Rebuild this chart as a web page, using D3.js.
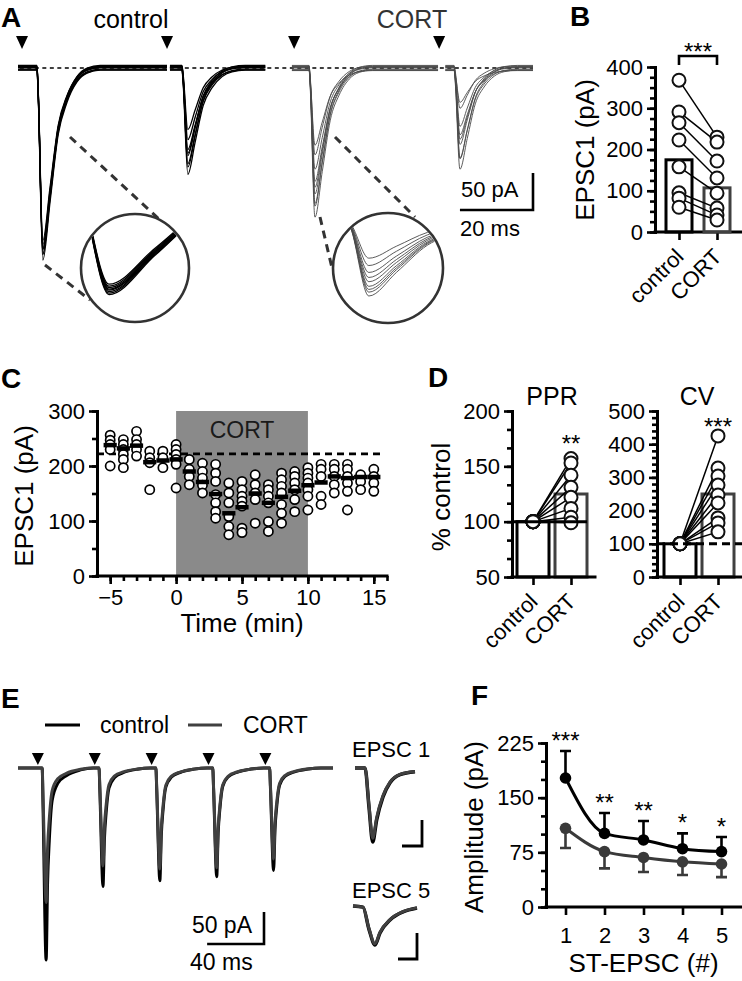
<!DOCTYPE html>
<html>
<head>
<meta charset="utf-8">
<script src="https://cdn.jsdelivr.net/npm/d3@7"></script>
<style>
  body { margin: 0; background: #fff; }
  svg text { font-family: "Liberation Sans", Arial, Helvetica, sans-serif; fill: #000; }
</style>
</head>
<body>
<svg id="fig" width="742" height="981"></svg>
<script>
// ---------- data ----------
// A: peak amplitude (pA) of each overlaid sweep, 1st and 2nd response
const ctrlSweepPeak1 = [257, 254, 251, 248, 246, 243, 240, 236];
const ctrlSweepPeak2 = [141, 136, 128, 122, 116, 108, 98, 86];
const cortSweepPeak1 = [199, 189, 182, 174, 162, 151, 138, 120, 101];
const cortSweepPeak2 = [134, 125, 120, 107, 97, 88, 80, 57, 43];
const sweepNoise = [-3, 2, -1.5, 3.5, 0.5, -2.5, 1, 2.5, -3.5];   // baseline spread, pA
// EPSC waveform: [ms after onset, fraction of peak]
const epscShape = [[0, 0], [0.3, 0.12], [1.6, 1], [3.6, 0.69], [5.8, 0.34], [8.2, 0.17], [11, 0.06], [13.7, 0.015], [17.3, 0]];
const sweepWindows = [            // ms
  {cond: "control", t0: 0, t1: 40.8, stim: 1.1},
  {cond: "control", t0: 41.6, t1: 67.7, stim: 40.8},
  {cond: "CORT", t0: 75, t1: 115, stim: 75.6},
  {cond: "CORT", t0: 117, t1: 141, stim: 115.3}
];
const latency = 4.1;

// B
const groups = ["control", "CORT"];
const epscCtrl = [368, 291, 265, 223, 158, 95, 82, 60];
const epscCort = [230, 218, 172, 131, 94, 58, 41, 29];
const epscMean = [175, 107];

// C
const timeMin = [-5, -4, -3, -2, -1, 0, 1, 2, 3, 4, 5, 6, 7, 8, 9, 10, 11, 12, 13, 14, 15];
const epscTime = [
  [256, 247, 239, 230, 200],
  [248, 239, 230, 221, 212, 197],
  [263, 248, 239, 230, 218],
  [227, 215, 206, 157],
  [227, 215, 197],
  [239, 230, 221, 212, 203, 160],
  [212, 194, 181, 166],
  [205, 190, 178, 165, 151],
  [203, 187, 172, 148, 133, 117, 105],
  [169, 151, 133, 108, 90, 75],
  [172, 157, 145, 136, 127, 87, 79],
  [184, 166, 151, 139, 96],
  [166, 157, 145, 133, 99, 81],
  [187, 175, 163, 151, 130, 114, 96],
  [190, 181, 169, 157, 139, 117],
  [197, 187, 178, 169, 157, 145, 120],
  [203, 194, 181, 145, 130],
  [203, 194, 181, 166, 151],
  [203, 194, 181, 169, 154, 120],
  [184, 172, 157],
  [194, 181, 169, 154]
];
const meanTime = [238, 232, 237, 207, 210, 212, 190, 171, 149, 114, 125, 150, 133, 144, 155, 165, 170, 181, 178, 180, 180];
const baselineC = 222;

// D
const pprCtrl = [100, 100, 100, 100, 100, 100, 100, 100];
const pprCort = [157, 153, 142, 131, 122, 112, 104, 99];
const pprMean = [100, 125];
const cvCtrl = [100, 100, 100, 100, 100, 100, 100, 100, 100];
const cvCort = [425, 328, 304, 277, 247, 223, 178, 163, 136];
const cvMean = [100, 250];

// E
const stimTimesE = [14, 54, 94, 134, 174];
const ctrlTrainPeak = [300, 185, 176, 170, 160];
const cortTrainPeak = [210, 153, 158, 156, 142];
const trainShape = [[0, 0], [3, 0], [3.6, 0.2], [5.8, 1], [6.8, 0.6], [8, 0.38], [10, 0.17], [14, 0.08], [20, 0.04], [30, 0.01], [39, 0]];
const insetShape1 = [[0, 0], [10, 0], [14, 0.53], [17.7, 1], [21.7, 0.7], [28, 0.39], [35, 0.2], [45, 0.09], [60, 0.05]];
const insetShape5 = [[0, 0], [10, 0.03], [16, 0.6], [22, 1], [27, 0.69], [37, 0.36], [50, 0.15], [64, 0.05]];

// F
const pulseNo = [1, 2, 3, 4, 5];
const ampCtrl = [177, 101, 92, 80, 76];
const semCtrl = [37, 28, 26, 21, 20];
const ampCort = [108, 76, 68, 62, 59];
const semCort = [27, 23, 20, 18, 18];
const starsF = ["***", "**", "**", "*", "*"];

// ---------- helpers ----------
const FONT = '"Liberation Sans", Arial, Helvetica, sans-serif';
const GREY = "#404040";
const svg = d3.select("#fig");

function txt(s, x, y, size, anchor) {
  return svg.append("text").text(s).attr("x", x).attr("y", y)
    .attr("font-size", size).attr("text-anchor", anchor || "start");
}
function vtxt(s, x, y, size) {
  return svg.append("text").text(s).attr("transform", `translate(${x},${y}) rotate(-90)`)
    .attr("text-anchor", "middle").attr("font-size", size);
}
function slant(s, x, y) {
  return svg.append("text").text(s).attr("transform", `translate(${x},${y}) rotate(-45)`)
    .attr("text-anchor", "end").attr("font-size", 22);
}
function letter(s, x, y) { txt(s, x, y, 28).attr("font-weight", "bold"); }

function styleAxis(g) {
  g.attr("font-family", FONT).attr("font-size", 22);
  g.select(".domain").attr("stroke-width", 3).attr("stroke-linecap", "square");
  g.selectAll(".tick line").attr("stroke-width", 2.6);
  g.selectAll(".tick text").attr("fill", "#000");
}
function yAxis(scale, x, major, minor) {
  svg.append("g").attr("transform", `translate(${x},0)`)
    .call(d3.axisLeft(scale).tickValues(minor).tickSize(5).tickFormat("").tickSizeOuter(0))
    .call(styleAxis);
  svg.append("g").attr("transform", `translate(${x},0)`)
    .call(d3.axisLeft(scale).tickValues(major).tickSize(8).tickPadding(4).tickSizeOuter(0).tickFormat(d3.format("d")))
    .call(styleAxis);
}
function xAxis(scale, y, x0, x1, major, minor, pad, labels) {
  svg.append("line").attr("x1", x0).attr("x2", x1).attr("y1", y).attr("y2", y)
    .attr("stroke", "#000").attr("stroke-width", 3).attr("stroke-linecap", "square");
  if (minor) {
    svg.append("g").attr("transform", `translate(0,${y})`)
      .call(d3.axisBottom(scale).tickValues(minor).tickSize(5).tickFormat("").tickSizeOuter(0))
      .call(styleAxis).select(".domain").remove();
  }
  const g = svg.append("g").attr("transform", `translate(0,${y})`)
    .call(d3.axisBottom(scale).tickValues(major).tickSize(8).tickPadding(pad).tickSizeOuter(0)
      .tickFormat(labels ? "" : d3.format("d")))
    .call(styleAxis);
  g.select(".domain").remove();
}

// ---------- A ----------
letter("A", 1, 27);
txt("control", 131, 28, 25, "middle");
txt("CORT", 412, 28, 25, "middle").style("fill", "#333");

const xA = d3.scaleLinear().domain([0, 141]).range([18, 533]);
const yA = d3.scaleLinear().domain([0, -260]).range([68, 260]);
const peaksA = [ctrlSweepPeak1, ctrlSweepPeak2, cortSweepPeak1, cortSweepPeak2];
const styleA = {control: {stroke: "#000", w: 1.3}, CORT: {stroke: "#4a4a4a", w: 0.9}};

function sweepPoints(w, peak, noise) {
  const on = w.stim + latency;
  const pts = [[w.t0, noise], [on, noise]];
  epscShape.slice(1).forEach(([dt, f]) => pts.push([on + dt, noise - f * peak]));
  pts.push([w.t1, noise]);
  return pts;
}

svg.append("line").attr("x1", xA(0.5)).attr("x2", xA(141)).attr("y1", yA(0)).attr("y2", yA(0))
  .attr("stroke", "#000").attr("stroke-width", 1.6).attr("stroke-dasharray", "4,3.5");

const lineA = d3.line().x(d => xA(d[0])).y(d => yA(d[1])).curve(d3.curveMonotoneX);
sweepWindows.forEach((w, wi) => {
  const st = styleA[w.cond];
  svg.append("g").selectAll("path").data(peaksA[wi]).join("path")
    .attr("d", (p, i) => lineA(sweepPoints(w, p, sweepNoise[i])))
    .attr("fill", "none").attr("stroke", st.stroke).attr("stroke-width", st.w);
  const x = xA(w.stim);
  svg.append("path").attr("d", `M${x - 6},36L${x + 6},36L${x},49Z`).attr("fill", "#000");
});

// zoom connectors
const dashA = [[70, 137, 160, 220], [45, 265, 90, 300], [335, 137, 415, 217], [320, 217, 332, 268]];
svg.append("g").selectAll("line").data(dashA).join("line")
  .attr("x1", d => d[0]).attr("y1", d => d[1]).attr("x2", d => d[2]).attr("y2", d => d[3])
  .attr("stroke", "#333").attr("stroke-width", 3).attr("stroke-dasharray", "8,6");

const insetA = [
  {w: 0, cx: 135, cy: 268, r: 54, t: [0.9, 4.6], x: [93, 178], pA: [-130, -262], y: [232, 297]},
  {w: 2, cx: 388, cy: 268, r: 55, t: [0.1, 6.0], x: [348, 430], pA: [-15, -199], y: [225, 296]}
];
insetA.forEach((ins, k) => {
  const w = sweepWindows[ins.w], on = w.stim + latency;
  const xi = d3.scaleLinear().domain([on + ins.t[0], on + ins.t[1]]).range(ins.x);
  const yi = d3.scaleLinear().domain(ins.pA).range(ins.y);
  const li = d3.line().x(d => xi(d[0])).y(d => yi(d[1])).curve(d3.curveMonotoneX);
  svg.append("clipPath").attr("id", "clipA" + k).append("circle")
    .attr("cx", ins.cx).attr("cy", ins.cy).attr("r", ins.r - 1.5);
  svg.append("circle").attr("cx", ins.cx).attr("cy", ins.cy).attr("r", ins.r).attr("fill", "#fff");
  const st = styleA[w.cond];
  svg.append("g").attr("clip-path", `url(#clipA${k})`).selectAll("path").data(peaksA[ins.w]).join("path")
    .attr("d", p => li(sweepPoints(w, p, 0)))
    .attr("fill", "none").attr("stroke", st.stroke).attr("stroke-width", st.w);
  svg.append("circle").attr("cx", ins.cx).attr("cy", ins.cy).attr("r", ins.r)
    .attr("fill", "none").attr("stroke", "#333").attr("stroke-width", 2.6);
});

// scale bar A
const sbAy = 210;
svg.append("path")
  .attr("d", `M${xA(121)},${sbAy}H${xA(141)}V${sbAy - (yA(-50) - yA(0))}`)
  .attr("fill", "none").attr("stroke", "#000").attr("stroke-width", 2.6);
txt("50 pA", 461, 197, 22);
txt("20 ms", 460, 236, 22);

// ---------- B ----------
letter("B", 570, 26);
const yB = d3.scaleLinear().domain([0, 400]).range([232, 67]);
const xB = d3.scalePoint().domain(groups).range([660, 736]).padding(0.5);
yAxis(yB, 655, [0, 100, 200, 300, 400], d3.range(0, 401, 25));
xAxis(xB, 232, 655, 742, groups, null, 6, true);
vtxt("EPSC1 (pA)", 594, 150, 26);
groups.forEach((g, i) => {
  svg.append("rect").attr("x", xB(g) - 13).attr("y", yB(epscMean[i])).attr("width", 26)
    .attr("height", yB(0) - yB(epscMean[i])).attr("fill", "none")
    .attr("stroke", i ? GREY : "#000").attr("stroke-width", 3);
  slant(g, xB(g) + 6, 258);
});
svg.append("g").selectAll("line").data(epscCtrl).join("line")
  .attr("x1", xB("control")).attr("y1", d => yB(d))
  .attr("x2", xB("CORT")).attr("y2", (d, i) => yB(epscCort[i]))
  .attr("stroke", "#000").attr("stroke-width", 1.5);
[[epscCtrl, "control"], [epscCort, "CORT"]].forEach(([vals, g]) => {
  svg.append("g").selectAll("circle").data(vals).join("circle")
    .attr("cx", xB(g)).attr("cy", d => yB(d)).attr("r", 6.5)
    .attr("fill", "#fff").attr("stroke", "#111").attr("stroke-width", 2);
});
svg.append("path").attr("d", `M${xB("control")},65V56H${xB("CORT")}V65`)
  .attr("fill", "none").attr("stroke", "#000").attr("stroke-width", 2.6);
txt("***", (xB("control") + xB("CORT")) / 2, 60, 24, "middle");

// ---------- C ----------
letter("C", 1, 388);
const xC = d3.scaleLinear().domain([-6, 16]).range([97, 387]);
const yC = d3.scaleLinear().domain([0, 300]).range([576, 411]);
svg.append("rect").attr("x", xC(0)).attr("y", yC(300)).attr("width", xC(10) - xC(0))
  .attr("height", yC(0) - yC(300)).attr("fill", "#8a8a8a");
txt("CORT", xC(5), 438, 23, "middle").style("fill", "#1a1a1a");
svg.append("line").attr("x1", xC(-6)).attr("x2", xC(15.8)).attr("y1", yC(baselineC)).attr("y2", yC(baselineC))
  .attr("stroke", "#000").attr("stroke-width", 2.6).attr("stroke-dasharray", "7,5");
timeMin.forEach((t, i) => {
  svg.append("g").selectAll("circle").data(epscTime[i]).join("circle")
    .attr("cx", xC(t)).attr("cy", d => yC(d)).attr("r", 4.6)
    .attr("fill", "#fff").attr("stroke", "#000").attr("stroke-width", 1.7);
});
svg.append("g").selectAll("line").data(meanTime).join("line")
  .attr("x1", (d, i) => xC(timeMin[i] - 0.5)).attr("x2", (d, i) => xC(timeMin[i] + 0.5))
  .attr("y1", d => yC(d)).attr("y2", d => yC(d))
  .attr("stroke", "#000").attr("stroke-width", 4.5);
yAxis(yC, 97, [0, 100, 200, 300], d3.range(0, 301, 50));
xAxis(xC, 576, 97, 387, [-5, 0, 5, 10, 15], d3.range(-5, 17), 5);
vtxt("EPSC1 (pA)", 33, 496, 26);
txt("Time (min)", xC(5), 632, 26, "middle");

// ---------- D ----------
letter("D", 428, 387);
vtxt("% control", 450, 497, 26);
const yP = d3.scaleLinear().domain([50, 200]).range([577, 411]);
const xP = d3.scalePoint().domain(groups).range([514, 590]).padding(0.5);
const yV = d3.scaleLinear().domain([0, 500]).range([577, 411]);
const xV = d3.scalePoint().domain(groups).range([661, 737]).padding(0.5);

function pairedPanel(xS, yS, axisX, axisEnd, major, minor, means, ctrl, cort) {
  groups.forEach((g, i) => {
    svg.append("rect").attr("x", xS(g) - 16).attr("y", yS(means[i])).attr("width", 32)
      .attr("height", yS.range()[0] - yS(means[i])).attr("fill", "none")
      .attr("stroke", i ? GREY : "#000").attr("stroke-width", 3);
    slant(g, xS(g) + 6, 603);
  });
  svg.append("g").selectAll("line").data(cort).join("line")
    .attr("x1", xS("control")).attr("y1", (d, i) => yS(ctrl[i]))
    .attr("x2", xS("CORT")).attr("y2", d => yS(d))
    .attr("stroke", "#000").attr("stroke-width", 1.5);
  [[ctrl, "control"], [cort, "CORT"]].forEach(([vals, g]) => {
    svg.append("g").selectAll("circle").data(vals).join("circle")
      .attr("cx", xS(g)).attr("cy", d => yS(d)).attr("r", 6.5)
      .attr("fill", "#fff").attr("stroke", "#111").attr("stroke-width", 2);
  });
  yAxis(yS, axisX, major, minor);
  xAxis(xS, 577, axisX, axisEnd, groups, null, 6, true);
}
pairedPanel(xP, yP, 512, 595, [50, 100, 150, 200], d3.range(50, 201, 50 / 3), pprMean, pprCtrl, pprCort);
svg.append("line").attr("x1", 512).attr("x2", xP("CORT") + 16).attr("y1", yP(100)).attr("y2", yP(100))
  .attr("stroke", "#000").attr("stroke-width", 3);
txt("PPR", 552, 405, 25, "middle");
txt("**", xP("CORT"), 452, 24, "middle");

pairedPanel(xV, yV, 657, 742, [0, 100, 200, 300, 400, 500], d3.range(0, 501, 20), cvMean, cvCtrl, cvCort);
svg.append("line").attr("x1", 657).attr("x2", 742).attr("y1", yV(100)).attr("y2", yV(100))
  .attr("stroke", "#000").attr("stroke-width", 3).attr("stroke-dasharray", "8,5");
txt("CV", 697, 405, 25, "middle");
txt("***", xV("CORT"), 435, 24, "middle");

// ---------- E ----------
letter("E", 1, 708);
svg.append("line").attr("x1", 45).attr("x2", 80).attr("y1", 725).attr("y2", 725).attr("stroke", "#000").attr("stroke-width", 3);
txt("control", 100, 733, 23);
svg.append("line").attr("x1", 188).attr("x2", 222).attr("y1", 725).attr("y2", 725).attr("stroke", GREY).attr("stroke-width", 3);
txt("CORT", 243, 733, 23);

const xE = d3.scaleLinear().domain([0, 223]).range([18, 335]);
const yE = d3.scaleLinear().domain([0, -300]).range([768, 960]);
function trainPoints(peaks) {
  const pts = [[0, 0]];
  stimTimesE.forEach((s, i) => trainShape.forEach(([dt, f]) => pts.push([s + dt, -f * peaks[i]])));
  pts.push([221.6, 0]);
  return pts;
}
const lineE = d3.line().x(d => xE(d[0])).y(d => yE(d[1])).curve(d3.curveMonotoneX);
[[ctrlTrainPeak, "#000"], [cortTrainPeak, GREY]].forEach(([pk, c]) => {
  svg.append("path").attr("d", lineE(trainPoints(pk))).attr("fill", "none")
    .attr("stroke", c).attr("stroke-width", 3).attr("stroke-linejoin", "round");
});
svg.append("g").selectAll("path").data(stimTimesE).join("path")
  .attr("d", s => `M${xE(s) - 6},753L${xE(s) + 6},753L${xE(s)},765Z`).attr("fill", "#000");
svg.append("path")
  .attr("d", `M${264 - (xE(40) - xE(0))},944H264V${944 - (yE(-50) - yE(0))}`)
  .attr("fill", "none").attr("stroke", "#000").attr("stroke-width", 2.6);
txt("50 pA", 252, 933, 23, "end");
txt("40 ms", 190, 970, 23);

// E insets (peak-normalised)
const insetsE = [
  {name: "EPSC 1", ty: 757, shape: insetShape1, x: [355, 415], d: 60, y0: 768, y1: 842, cort: 0.95, bar: [402, 422, 820, 846]},
  {name: "EPSC 5", ty: 898, shape: insetShape5, x: [353, 417], d: 64, y0: 906, y1: 945, cort: 0.97, bar: [398, 417, 933, 959]}
];
insetsE.forEach(ins => {
  txt(ins.name, 352, ins.ty, 22);
  const xi = d3.scaleLinear().domain([0, ins.d]).range(ins.x);
  const yi = d3.scaleLinear().domain([0, 1]).range([ins.y0, ins.y1]);
  const li = d3.line().x(d => xi(d[0])).y(d => yi(d[1])).curve(d3.curveMonotoneX);
  svg.append("path").attr("d", li(ins.shape)).attr("fill", "none").attr("stroke", "#000").attr("stroke-width", 3.5);
  svg.append("path").attr("d", li(ins.shape.map(([t, f]) => [t, f * ins.cort]))).attr("fill", "none")
    .attr("stroke", GREY).attr("stroke-width", 3);
  const b = ins.bar;
  svg.append("path").attr("d", `M${b[0]},${b[3]}H${b[1]}V${b[2]}`).attr("fill", "none")
    .attr("stroke", "#000").attr("stroke-width", 2.8);
});

// ---------- F ----------
letter("F", 471, 705);
const xF = d3.scaleLinear().domain([0.5, 5.5]).range([546, 741]);
const yF = d3.scaleLinear().domain([0, 225]).range([907, 743]);
const lineF = d3.line().x((d, i) => xF(pulseNo[i])).y(d => yF(d)).curve(d3.curveMonotoneX);
[[ampCtrl, semCtrl, "#000", 1], [ampCort, semCort, "#3a3a3a", -1]].forEach(([amp, sem, c, dir]) => {
  svg.append("path").attr("d", lineF(amp)).attr("fill", "none").attr("stroke", c).attr("stroke-width", 3);
  const eb = svg.append("g").attr("stroke", c).attr("stroke-width", 2.6).attr("fill", "none");
  eb.selectAll("path").data(amp).join("path")
    .attr("d", (d, i) => {
      const x = xF(pulseNo[i]), yE2 = yF(d + dir * sem[i]);
      return `M${x},${yF(d)}V${yE2}M${x - 5.5},${yE2}H${x + 5.5}`;
    });
  svg.append("g").selectAll("circle").data(amp).join("circle")
    .attr("cx", (d, i) => xF(pulseNo[i])).attr("cy", d => yF(d)).attr("r", 5.8).attr("fill", c);
});
svg.append("g").selectAll("text").data(starsF).join("text")
  .text(d => d).attr("x", (d, i) => xF(pulseNo[i])).attr("y", (d, i) => yF(ampCtrl[i] + semCtrl[i]) - 2)
  .attr("text-anchor", "middle").attr("font-size", 24);
yAxis(yF, 546, [0, 75, 150, 225], d3.range(0, 226, 25));
xAxis(xF, 907, 546, 741, pulseNo, null, 12);
vtxt("Amplitude (pA)", 483, 827, 26);
txt("ST-EPSC (#)", xF(3), 972, 26, "middle");
</script>
</body>
</html>
